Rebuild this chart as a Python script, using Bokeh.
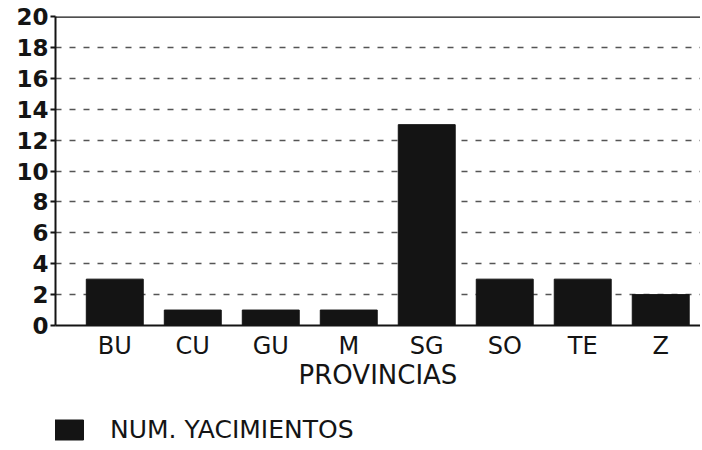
from bokeh.plotting import figure
from bokeh.layouts import column
from bokeh.models import (ColumnDataSource, FixedTicker, Span, Legend, LegendItem,
                          Range1d)
from bokeh.embed import file_html
from bokeh.resources import INLINE
import numpy as np

provincias = ["BU", "CU", "GU", "M", "SG", "SO", "TE", "Z"]
yacimientos = [3, 1, 1, 1, 13, 3, 3, 2]
y_ticks = [0, 2, 4, 6, 8, 10, 12, 14, 16, 18, 20]
series_name = "NUM. YACIMIENTOS"
x_title = "PROVINCIAS"

xpos = list(np.arange(1, len(provincias) + 1))
src = ColumnDataSource(dict(x=xpos, top=yacimientos, name=provincias))

FONT = "DejaVu Sans"
INK = "#141414"

p = figure(frame_width=645, frame_height=309, output_backend="svg", toolbar_location=None,
           x_range=Range1d(0.24, 8.51), y_range=Range1d(0, 20),
           min_border_left=55, min_border_right=0, min_border_top=16,
           min_border_bottom=80)
p.outline_line_color = None

r = p.vbar(x="x", top="top", width=0.73, bottom=0, source=src,
           fill_color=INK, line_color=INK)

# axes
p.xaxis.ticker = FixedTicker(ticks=xpos)
p.xaxis.major_label_overrides = {int(i): s for i, s in zip(xpos, provincias)}
p.xaxis.major_tick_line_color = None
p.xaxis.minor_tick_line_color = None
p.xaxis.axis_line_width = 2
p.xaxis.axis_line_color = INK
p.xaxis.major_label_text_font = FONT
p.xaxis.major_label_text_font_size = "24px"
p.xaxis.major_label_text_color = INK
p.xaxis.major_label_standoff = 0
p.xaxis.axis_label = x_title
p.xaxis.axis_label_text_font = FONT
p.xaxis.axis_label_text_font_size = "26px"
p.xaxis.axis_label_text_font_style = "normal"
p.xaxis.axis_label_text_color = INK
p.xaxis.axis_label_standoff = -3

p.yaxis.ticker = FixedTicker(ticks=y_ticks)
p.yaxis.minor_tick_line_color = None
p.yaxis.major_tick_out = 5
p.yaxis.major_tick_in = 0
p.yaxis.major_tick_line_width = 2
p.yaxis.major_tick_line_color = INK
p.yaxis.axis_line_width = 2
p.yaxis.axis_line_color = INK
p.yaxis.major_label_text_font = FONT
p.yaxis.major_label_text_font_size = "23px"
p.yaxis.major_label_text_font_style = "bold"
p.yaxis.major_label_text_color = INK
p.yaxis.major_label_standoff = 2

p.xgrid.grid_line_color = None
p.ygrid.ticker = FixedTicker(ticks=y_ticks[1:-1])
p.ygrid.grid_line_color = "#555555"
p.ygrid.grid_line_dash = "6 8"
p.ygrid.grid_line_width = 1.5

p.add_layout(Span(location=20, dimension="width", line_color=INK, line_width=2.5))

# legend strip below the chart (its proxy bars sit outside the visible range)
lg = figure(width=700, height=40, output_backend="svg", toolbar_location=None,
            x_range=Range1d(-20, -19), y_range=Range1d(-20, -19),
            x_axis_location=None, y_axis_location=None,
            min_border=0)
lg.outline_line_color = None
lg.grid.grid_line_color = None
r2 = lg.vbar(x="x", top="top", width=0.73, bottom=0, source=src,
             fill_color=INK, line_color=INK)

legend = Legend(items=[LegendItem(label=series_name, renderers=[r2])],
                location=(-8, 1), orientation="horizontal",
                glyph_width=40, glyph_height=25,
                label_text_font=FONT, label_text_font_size="25px",
                label_text_color=INK, label_standoff=23,
                border_line_color=None, background_fill_alpha=0,
                padding=0, margin=0)
lg.add_layout(legend, "center")

layout = column(p, lg, spacing=0)
open("out.html", "w").write(file_html(layout, INLINE))
